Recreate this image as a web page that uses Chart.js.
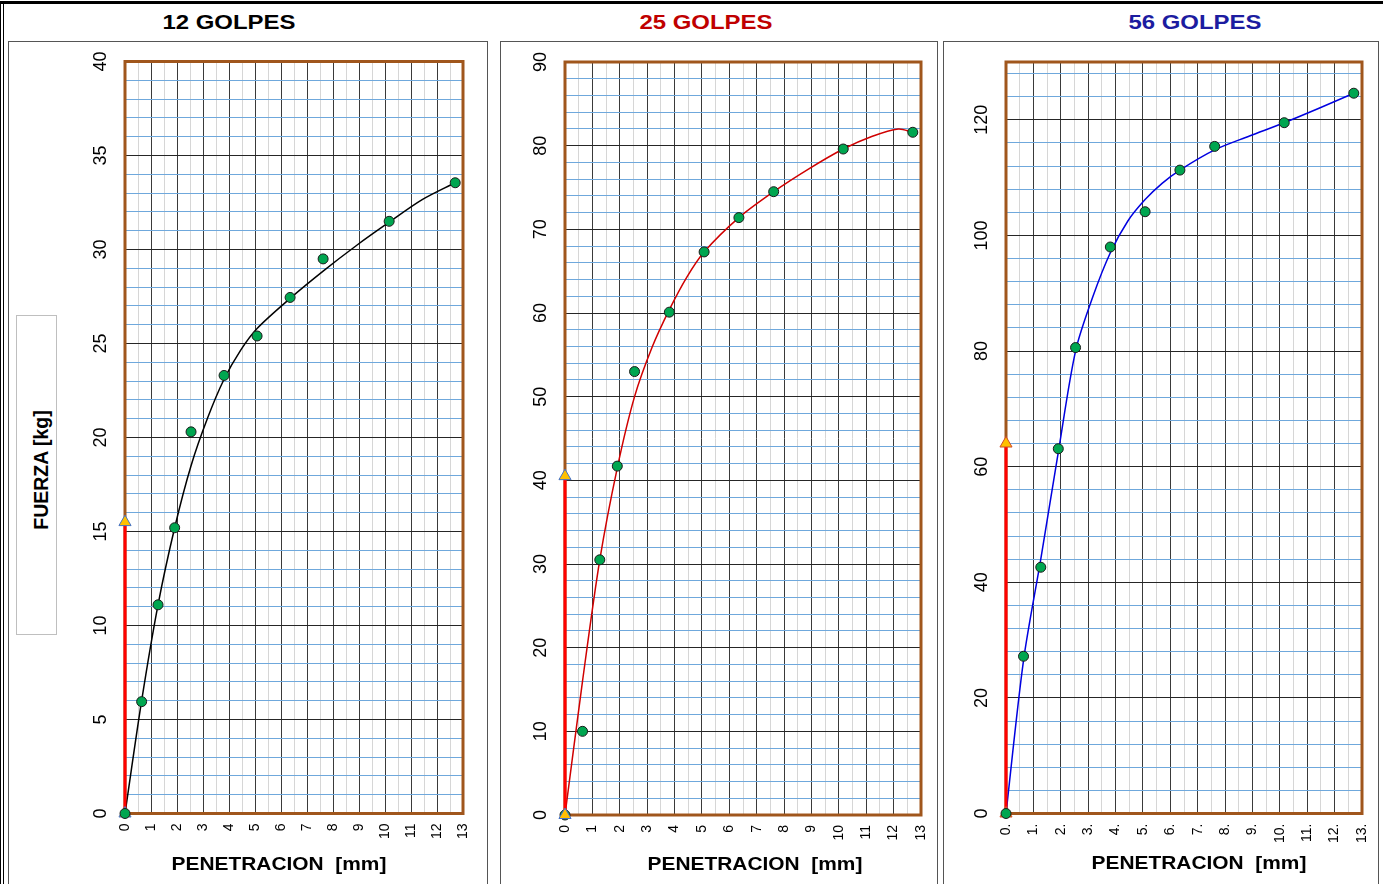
<!DOCTYPE html>
<html>
<head>
<meta charset="utf-8">
<script src="https://cdn.jsdelivr.net/npm/chart.js@4.4.1/dist/chart.umd.min.js"></script>
<style>
  body { margin: 0; width: 1383px; height: 884px; overflow: hidden; background: #fff; position: relative; font-family: Arial, "Liberation Sans", sans-serif; }
  .abs { position: absolute; }
  .panel { position: absolute; border: 1px solid #555; box-sizing: border-box; }
  .txt { position: absolute; white-space: nowrap; line-height: 1; font-weight: bold; transform: translate(-50%, -50%) scaleX(1.1); }
  canvas { position: absolute; }
</style>
</head>
<body>
<div class="abs" style="left:0;top:1px;width:1383px;height:3px;background:#000"></div>
<div class="abs" style="left:0;top:1px;width:1px;height:884px;background:#000"></div>
<div class="abs" style="left:3px;top:1px;width:1px;height:884px;background:#000"></div>

<div class="panel" style="left:8px;top:41px;width:480px;height:900px"></div>
<div class="panel" style="left:500px;top:41px;width:438px;height:900px"></div>
<div class="panel" style="left:943px;top:41px;width:436px;height:900px"></div>

<div class="txt" style="left:229px;top:21px;font-size:21px;color:#000;transform:translate(-50%,-50%) scaleX(1.14)">12 GOLPES</div>
<div class="txt" style="left:706px;top:21px;font-size:21px;color:#c00000;transform:translate(-50%,-50%) scaleX(1.14)">25 GOLPES</div>
<div class="txt" style="left:1195px;top:21px;font-size:21px;color:#1c1ca0;transform:translate(-50%,-50%) scaleX(1.14)">56 GOLPES</div>

<div class="abs" style="left:16px;top:315px;width:41px;height:320px;border:1px solid #bfbfbf;box-sizing:border-box"></div>
<div class="txt" style="left:42px;top:470px;font-size:19.5px;transform:translate(-50%,-50%) rotate(-90deg)">FUERZA [kg]</div>

<canvas id="c12" width="426" height="838" style="left:58px;top:44px;width:426px;height:838px"></canvas>
<canvas id="c25" width="428" height="838" style="left:505px;top:44px;width:428px;height:838px"></canvas>
<canvas id="c56" width="426" height="838" style="left:948px;top:44px;width:426px;height:838px"></canvas>

<div class="txt" style="left:279px;top:863px;font-size:19px">PENETRACION&nbsp;&nbsp;[mm]</div>
<div class="txt" style="left:755px;top:863px;font-size:19px">PENETRACION&nbsp;&nbsp;[mm]</div>
<div class="txt" style="left:1199px;top:862px;font-size:19px">PENETRACION&nbsp;&nbsp;[mm]</div>

<script>
// penetracion [mm] de las lecturas
const pen = [0, 0.64, 1.27, 1.91, 2.54, 3.81, 5.08, 6.35, 7.62, 10.16, 12.7];

// fuerza medida [kg]
const fuerza12 = [0, 5.95, 11.1, 15.2, 20.3, 23.3, 25.4, 27.45, 29.5, 31.5, 33.55];
const fuerza25 = [0, 10.0, 30.5, 41.7, 53.0, 60.1, 67.3, 71.4, 74.5, 79.6, 81.6];
const fuerza56 = [0, 27.2, 42.6, 63.1, 80.6, 98.0, 104.1, 111.3, 115.4, 119.5, 124.6];

// curva ajustada
const curva12Pen = [0, 0.64, 1.27, 1.91, 2.54, 3.18, 3.81, 4.45, 5.08, 6.35, 7.62, 8.89, 10.16, 11.43, 12.7];
const curva12 = [0, 6.0, 11.1, 15.2, 18.5, 21.05, 23.1, 24.65, 25.8, 27.4, 28.85, 30.2, 31.45, 32.65, 33.55];
const curva25Pen = [0, 0.64, 1.27, 1.91, 2.54, 3.18, 3.81, 4.45, 5.08, 6.35, 7.62, 8.89, 10.16, 11.2, 12.17, 12.7];
const curva25 = [0, 16.0, 30.5, 41.5, 50.0, 55.9, 60.4, 64.3, 67.3, 71.4, 74.5, 77.2, 79.6, 81.1, 82.0, 81.6];
const curva56Pen = [0, 0.64, 1.27, 1.91, 2.54, 3.18, 3.81, 4.45, 5.08, 5.7, 6.35, 7.62, 8.89, 10.16, 11.43, 12.7];
const curva56 = [0, 26.5, 44.0, 62.5, 80.0, 89.5, 97.0, 102.5, 106.2, 109.0, 111.3, 114.8, 117.2, 119.5, 122.0, 124.6];

// fuerza de referencia marcada en el eje (triangulo)
const ref12 = 15.5;
const ref25 = 40.5;
const ref56 = 64.0;

const FONT = 'Arial, "Liberation Sans", sans-serif';
const BROWN = '#a0561c';

const framePlugin = {
  id: 'frame',
  beforeDatasetsDraw(chart) {
    const a = chart.chartArea, ctx = chart.ctx;
    ctx.save();
    ctx.strokeStyle = BROWN;
    ctx.lineWidth = 3;
    ctx.strokeRect(a.left, a.top, a.right - a.left, a.bottom - a.top);
    ctx.restore();
  }
};

function fixSize(size) {
  return s => {
    if (s.isHorizontal()) s.height = size; else s.width = size;
    s.paddingTop = s.paddingBottom = s.paddingLeft = s.paddingRight = 0;
  };
}

function pts(xs, ys) {
  return xs.map((x, i) => ({ x: x, y: ys[i] }));
}

function makeChart(id, c) {
  return new Chart(document.getElementById(id), {
    type: 'scatter',
    data: {
      datasets: [
        {
          data: pts([0, 0], [0, c.ref]),
          showLine: true, borderColor: '#ff0000', borderWidth: 3,
          pointStyle: 'triangle', pointRadius: 7,
          pointBackgroundColor: '#ffc000', pointBorderColor: c.triBorder, pointBorderWidth: 1,
          order: c.triOrder, clip: false
        },
        {
          data: pts(c.curveX, c.curveY),
          showLine: true, borderColor: c.curveColor, borderWidth: 1.5,
          pointRadius: 0, tension: 0.3,
          order: 5, clip: false
        },
        {
          data: pts(pen, c.values),
          showLine: false, pointRadius: 5,
          pointBackgroundColor: '#00a650', pointBorderColor: '#1a1a1a', pointBorderWidth: 1,
          order: c.ptOrder, clip: false
        }
      ]
    },
    options: {
      responsive: false,
      animation: false,
      devicePixelRatio: 1,
      layout: { padding: c.pad },
      plugins: { legend: { display: false }, tooltip: { enabled: false } },
      scales: {
        x: {
          type: 'linear', min: 0, max: 13,
          afterFit: fixSize(40),
          ticks: {
            stepSize: 0.5, autoSkip: false, maxRotation: 90, minRotation: 90, padding: 10,
            color: '#000', font: { size: 14, family: FONT },
            callback: v => (v % 1 === 0 ? v + c.xSuffix : '')
          },
          grid: {
            drawTicks: false, lineWidth: 1,
            color: ctx => (ctx.tick && ctx.tick.value % 1 !== 0 ? '#d6d6d6' : '#3a3a3a')
          },
          border: { display: false }
        },
        y: {
          type: 'linear', min: 0, max: c.yMax,
          afterFit: fixSize(c.yW),
          ticks: {
            stepSize: c.yStep, autoSkip: false, includeBounds: false,
            maxRotation: 90, minRotation: 90, crossAlign: 'center', padding: c.yPad,
            color: '#000', font: { size: 18, family: FONT },
            callback: v => (v % c.yMajor === 0 ? v : '')
          },
          grid: {
            drawTicks: false, lineWidth: 1,
            color: ctx => (ctx.tick && ctx.tick.value % c.yMajor !== 0 ? '#6fa8dc' : '#262626')
          },
          border: { display: false }
        }
      }
    },
    plugins: [framePlugin]
  });
}

makeChart('c12', {
  values: fuerza12, curveX: curva12Pen, curveY: curva12, ref: ref12,
  curveColor: '#000000', triBorder: '#4472c4', triOrder: 1, ptOrder: 0,
  yMax: 40, yStep: 1, yMajor: 5, yW: 50, yPad: 14, xSuffix: '',
  pad: { left: 17, top: 17.5, right: 21, bottom: 28.5 }
});

makeChart('c25', {
  values: fuerza25, curveX: curva25Pen, curveY: curva25, ref: ref25,
  curveColor: '#d00000', triBorder: '#4472c4', triOrder: 0, ptOrder: 1,
  yMax: 90, yStep: 2, yMajor: 10, yW: 45, yPad: 14, xSuffix: '',
  pad: { left: 15, top: 18, right: 12, bottom: 27 }
});

makeChart('c56', {
  values: fuerza56, curveX: curva56Pen, curveY: curva56, ref: ref56,
  curveColor: '#0000e0', triBorder: '#d04a2a', triOrder: 1, ptOrder: 0,
  yMax: 130, yStep: 4, yMajor: 20, yW: 45, yPad: 9, xSuffix: '.',
  pad: { left: 13, top: 18, right: 12, bottom: 28.5 }
});
</script>
</body>
</html>
